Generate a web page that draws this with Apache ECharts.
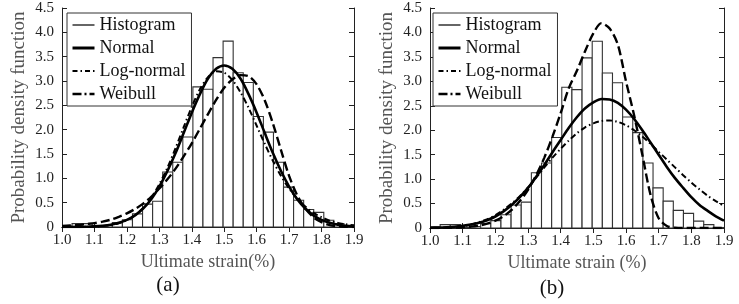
<!DOCTYPE html>
<html>
<head>
<meta charset="utf-8">
<script src="https://cdn.jsdelivr.net/npm/echarts@6/dist/echarts.min.js"></script>
<style>
html,body{margin:0;padding:0;background:#fff;}
#chart{width:739px;height:304px;}
</style>
</head>
<body>
<div id="chart"></div>
<script>
// ---------- data ----------
const xTicks = ['1.0','1.1','1.2','1.3','1.4','1.5','1.6','1.7','1.8','1.9'];
const yTicks = ['0','0.5','1.0','1.5','2.0','2.5','3.0','3.5','4.0','4.5'];
const legendNames = ['Histogram','Normal','Log-normal','Weibull'];

// histogram: 29 bins from 1.0 to 1.9
const binStart = 1.0;
const binEnd = 1.9;
const histHeights = [0.02, 0.07, 0.07, 0.02, 0.03, 0.09, 0.15, 0.27, 0.47, 0.53,
                     1.13, 1.33, 1.85, 2.88, 2.83, 3.48, 3.82, 3.17, 2.97, 2.27,
                     1.95, 1.33, 0.82, 0.55, 0.36, 0.30, 0.14, 0.07, 0.01];

// curve sample points
const xs = [1.000,1.025,1.050,1.075,1.100,1.125,1.150,1.175,1.200,1.225,
            1.250,1.275,1.300,1.325,1.350,1.375,1.400,1.425,1.450,1.475,
            1.500,1.525,1.550,1.575,1.600,1.625,1.650,1.675,1.700,1.725,
            1.750,1.775,1.800,1.825,1.850,1.875,1.900];

// (a)
const normalA = [0.001,0.001,0.003,0.006,0.013,0.026,0.047,0.085,0.146,0.24,
                 0.38,0.57,0.83,1.15,1.52,1.93,2.35,2.73,3.05,3.25,
                 3.32,3.25,3.05,2.73,2.35,1.93,1.52,1.15,0.83,0.57,
                 0.38,0.24,0.146,0.085,0.047,0.026,0.013];
const lognormalA = [0.000,0.000,0.001,0.003,0.008,0.018,0.038,0.075,0.14,0.24,
                    0.39,0.60,0.88,1.22,1.62,2.05,2.47,2.83,3.08,3.20,
                    3.17,3.02,2.77,2.45,2.08,1.71,1.36,1.05,0.79,0.58,
                    0.42,0.29,0.20,0.13,0.085,0.055,0.035];
const weibullA = [0.02,0.03,0.04,0.06,0.08,0.11,0.15,0.21,0.28,0.37,
                  0.48,0.62,0.79,0.98,1.20,1.45,1.72,2.02,2.32,2.61,
                  2.86,3.03,3.12,3.10,2.93,2.60,2.13,1.58,1.05,0.65,
                  0.38,0.20,0.10,0.04,0.015,0.005,0.00];
// (b)
const normalB = [0.005,0.009,0.016,0.027,0.045,0.07,0.108,0.16,0.235,0.34,
                 0.47,0.63,0.82,1.05,1.29,1.55,1.80,2.05,2.27,2.45,
                 2.57,2.64,2.63,2.56,2.42,2.23,2.00,1.75,1.50,1.25,
                 1.02,0.82,0.63,0.47,0.35,0.24,0.15];
const lognormalB = [0.000,0.002,0.008,0.02,0.04,0.07,0.12,0.18,0.26,0.37,
                    0.50,0.65,0.83,1.03,1.24,1.44,1.62,1.79,1.94,2.06,
                    2.14,2.19,2.20,2.17,2.10,2.00,1.87,1.72,1.56,1.40,
                    1.24,1.08,0.93,0.79,0.66,0.55,0.45];
const weibullB = [0.000,0.001,0.003,0.007,0.014,0.027,0.05,0.09,0.15,0.24,
                  0.37,0.55,0.78,1.08,1.44,1.87,2.35,2.86,3.22,3.62,
                  3.98,4.19,4.08,3.75,3.00,2.30,1.50,0.68,0.20,0.04,
                  0.005,0,0,0,0,0,0];

// ---------- build ----------
const FONT = "'Liberation Serif','Times New Roman',serif";
const nBins = histHeights.length;
const bw = (binEnd - binStart) / nBins;
const histData = histHeights.map((h, i) => [binStart + i * bw, binStart + (i + 1) * bw, h]);
const pairs = arr => xs.map((x, i) => [x, arr[i]]);

const grids = [
  {left: 62, top: 8, width: 292, height: 219},
  {left: 430, top: 8, width: 294, height: 220}
];

function xAxes(g, name) {
  return [
    {gridIndex: g, type: 'value', min: 1.0, max: 1.9, interval: 0.1, position: 'bottom',
     name: name, nameLocation: 'middle', nameGap: 24,
     nameTextStyle: {fontFamily: FONT, fontSize: 18, color: '#555'},
     axisLine: {lineStyle: {color: '#222', width: 1}},
     axisTick: {inside: true, length: 5, lineStyle: {color: '#222'}},
     axisLabel: {fontFamily: FONT, fontSize: 15, color: '#222', margin: 6,
                 formatter: v => xTicks[Math.round((v - 1.0) * 10)]},
     splitLine: {show: false}},
    {gridIndex: g, type: 'value', min: 1.0, max: 1.9, interval: 0.1, position: 'top',
     axisLine: {lineStyle: {color: '#222', width: 1}},
     axisTick: {inside: true, length: 5, lineStyle: {color: '#222'}},
     axisLabel: {show: false}, splitLine: {show: false}}
  ];
}
function yAxes(g) {
  return [
    {gridIndex: g, type: 'value', min: 0, max: 4.5, interval: 0.5, position: 'left',
     name: 'Probability density function', nameLocation: 'middle', nameGap: 33, nameRotate: 90,
     nameTextStyle: {fontFamily: FONT, fontSize: 19, color: '#555'},
     axisLine: {lineStyle: {color: '#222', width: 1}},
     axisTick: {inside: true, length: 5, lineStyle: {color: '#222'}},
     axisLabel: {fontFamily: FONT, fontSize: 15, color: '#222', margin: 8,
                 formatter: v => yTicks[Math.round(v * 2)]},
     splitLine: {show: false}},
    {gridIndex: g, type: 'value', min: 0, max: 4.5, interval: 0.5, position: 'right',
     axisLine: {lineStyle: {color: '#222', width: 1}},
     axisTick: {inside: true, length: 5, lineStyle: {color: '#222'}},
     axisLabel: {show: false}, splitLine: {show: false}}
  ];
}

const styles = {
  'Normal': {color: '#000', width: 2.6, type: 'solid'},
  'Log-normal': {color: '#000', width: 2, type: [6, 3, 1.5, 3]},
  'Weibull': {color: '#000', width: 2.4, type: [9, 4]}
};

function histSeries(xi, yi) {
  return {
    type: 'custom', name: 'hist', xAxisIndex: xi, yAxisIndex: yi, clip: true, z: 1,
    data: histData, encode: {x: [0, 1], y: 2},
    renderItem: (params, api) => {
      const p0 = api.coord([api.value(0), api.value(2)]);
      const p1 = api.coord([api.value(1), 0]);
      return {type: 'rect',
              shape: {x: p0[0], y: p0[1], width: p1[0] - p0[0], height: p1[1] - p0[1]},
              style: {fill: '#fff', stroke: '#333', lineWidth: 1.1}};
    }
  };
}
function curve(name, arr, xi, yi) {
  const s = styles[name];
  return {type: 'line', name: name, xAxisIndex: xi, yAxisIndex: yi, data: pairs(arr),
          showSymbol: false, symbol: 'none', smooth: 0.3, clip: true, z: 3,
          lineStyle: {color: s.color, width: s.width, type: s.type}, itemStyle: {color: '#000'}};
}

const hiddenSymbol = {color: 'rgba(0,0,0,0)', borderColor: 'rgba(0,0,0,0)', borderWidth: 0, opacity: 0};
const legendData = [
  {name: 'Histogram', lineStyle: {width: 1.2, type: 'solid'}, itemStyle: hiddenSymbol},
  {name: 'Normal', lineStyle: {width: 3, type: 'solid'}, itemStyle: hiddenSymbol},
  {name: 'Log-normal', lineStyle: {width: 2, type: [5, 3, 1.5, 3]}, itemStyle: hiddenSymbol},
  {name: 'Weibull', lineStyle: {width: 2.6, type: [9, 3, 2, 3]}, itemStyle: hiddenSymbol}
];
function legendAt(left) {
  return {data: legendData, orient: 'vertical', left: left, top: 13,
          backgroundColor: '#fff', borderColor: '#333', borderWidth: 1,
          padding: [3, 6, 3, 4], itemWidth: 22, itemHeight: 12, itemGap: 5,
          selectedMode: false,
          textStyle: {fontFamily: FONT, fontSize: 18, color: '#111'}};
}

const option = {
  animation: false,
  backgroundColor: '#fff',
  grid: grids,
  xAxis: xAxes(0, 'Ultimate strain(%)').concat(xAxes(1, 'Ultimate strain (%)')),
  yAxis: yAxes(0).concat(yAxes(1)),
  legend: [legendAt(67), legendAt(433)],
  graphic: [
    {type: 'text', x: 168, y: 285, style: {text: '(a)', fontFamily: FONT, fontSize: 21, fill: '#111', align: 'center', verticalAlign: 'middle'}},
    {type: 'text', x: 552, y: 288, style: {text: '(b)', fontFamily: FONT, fontSize: 21, fill: '#111', align: 'center', verticalAlign: 'middle'}}
  ],
  series: [
    histSeries(0, 0),
    histSeries(2, 2),
    {type: 'line', name: 'Histogram', xAxisIndex: 0, yAxisIndex: 0, data: [], symbol: 'none',
     lineStyle: {color: '#000', width: 1.2}, itemStyle: {color: '#000'}},
    curve('Normal', normalA, 0, 0),
    curve('Log-normal', lognormalA, 0, 0),
    curve('Weibull', weibullA, 0, 0),
    curve('Normal', normalB, 2, 2),
    curve('Log-normal', lognormalB, 2, 2),
    curve('Weibull', weibullB, 2, 2)
  ]
};

const chart = echarts.init(document.getElementById('chart'), null, {renderer: 'canvas'});
chart.setOption(option);
</script>
</body>
</html>
